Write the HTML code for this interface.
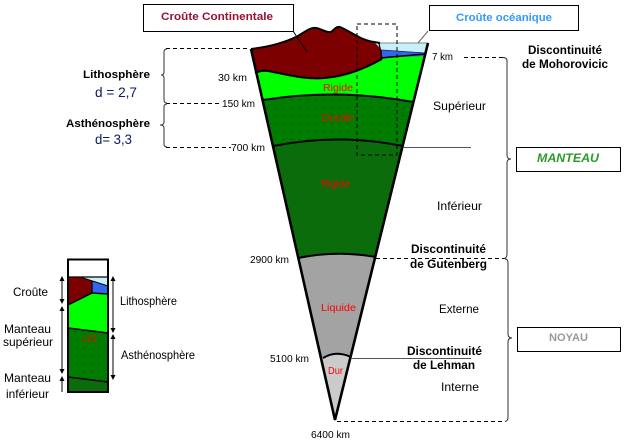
<!DOCTYPE html>
<html><head><meta charset="utf-8">
<style>
html,body{margin:0;padding:0;background:#fff;}
svg{display:block;}
text{font-family:"Liberation Sans",Arial,sans-serif;}
</style></head>
<body>
<svg width="625" height="443" viewBox="0 0 625 443" xmlns="http://www.w3.org/2000/svg">
<defs>
<clipPath id="cone">
<path d="M251,49 C268,47 284,43 298,36 C306,31 311,27 316,28 C322,29 326,33 331,32 C334,30 336,26 340,27 C350,31 360,40 374,42 L380,43 L428,43 L335,420 Z"/>
</clipPath>
<pattern id="dots" width="8" height="8" patternUnits="userSpaceOnUse">
<rect width="8" height="8" fill="#007c00"/>
<rect x="3" y="3" width="1" height="1" fill="#004a00"/>
</pattern>
</defs>

<!-- cone fills -->
<g clip-path="url(#cone)">
<rect x="200" y="0" width="260" height="443" fill="#0b6c0b"/>
<path d="M200,0 L460,0 L460,146 L403,146 Q338,133 273,146 L200,146 Z" fill="url(#dots)"/>
<path d="M200,0 L460,0 L460,102 L413,102 Q338,88 263,100 L200,100 Z" fill="#00ff00"/>
<path d="M240,10 L240,74 L255,73 Q262,70 268,71 C285,74 305,80 325,78 C345,76 362,70 382,59 L382,49 L378,42 L370,10 Z" fill="#7c0000"/>
<path d="M372,40 L430,40 L430,53 L382,50 Z" fill="#c6f0fa"/>
<path d="M382,50 L430,53 L430,56 L397,57 L382,59 Z" fill="#3366ee"/>
<path d="M200,258 L298,258 Q337,250 376,257 L460,257 L460,450 L200,450 Z" fill="#a3a3a3"/>
<path d="M200,358 L323,358 Q336,350 351,357 L460,357 L460,450 L200,450 Z" fill="#cbcbcb"/>
</g>

<!-- boundaries -->
<g fill="none" stroke="#000">
<path d="M251,49 C268,47 284,43 298,36 C306,31 311,27 316,28 C322,29 326,33 331,32 C334,30 336,26 340,27 C350,31 360,40 374,42 L380,43" stroke-width="2"/>
<path d="M380,43 L428,43" stroke="#888" stroke-width="1"/>
<path d="M255,73 Q262,70 268,71 C285,74 305,80 325,78 C345,76 362,70 382,59" stroke-width="2"/>
<path d="M380,58 L425,54" stroke-width="1.5"/>
<path d="M382,50 L425,53" stroke="#224" stroke-width="0.8"/>
<path d="M382,59 L379,43" stroke-width="1.2"/>
<path d="M263,100 Q338,88 413,102" stroke-width="2"/>
<path d="M273,146 Q338,133 403,146" stroke-width="2"/>
<path d="M298,258 Q337,250 376,257" stroke-width="2"/>
<path d="M323,358 Q336,350 351,357" stroke-width="2"/>
<path d="M251,49 L335,420 L428,43" stroke-width="2.6" stroke-linejoin="miter"/>
</g>

<!-- dashed rectangle -->
<rect x="357" y="24" width="40" height="131" fill="none" stroke="#000" stroke-width="1" stroke-dasharray="4,3"/>

<!-- callouts -->
<rect x="143.5" y="4.5" width="150" height="27" fill="#fff" stroke="#000" stroke-width="1"/>
<line x1="293" y1="31" x2="307" y2="52" stroke="#000" stroke-width="1"/>
<text x="161" y="20" font-size="11" font-weight="bold" fill="#991133" textLength="112" lengthAdjust="spacingAndGlyphs">Croûte Continentale</text>
<rect x="429.5" y="5.5" width="149" height="25" fill="#fff" stroke="#000" stroke-width="1"/>
<line x1="428" y1="31" x2="418" y2="43" stroke="#666" stroke-width="1"/>
<text x="456" y="21" font-size="11" font-weight="bold" fill="#3399ff" textLength="96" lengthAdjust="spacingAndGlyphs">Croûte océanique</text>

<!-- dashed connectors -->
<g stroke="#000" stroke-width="1" stroke-dasharray="4,3" fill="none">
<line x1="166" y1="48.5" x2="250" y2="48.5"/>
<line x1="166" y1="103.5" x2="220" y2="103.5"/>
<line x1="166" y1="147.5" x2="231" y2="147.5"/>
<line x1="464" y1="57.5" x2="503" y2="57.5"/>
<line x1="376" y1="258.5" x2="505" y2="258.5"/>
<line x1="337" y1="421.5" x2="505" y2="421.5"/>
</g>
<line x1="403" y1="147.5" x2="471" y2="147.5" stroke="#555" stroke-width="1"/>
<line x1="351" y1="358.5" x2="471" y2="358.5" stroke="#555" stroke-width="1"/>

<!-- braces -->
<g fill="none" stroke="#333" stroke-width="1">
<path d="M167,49 Q164,49 164,52 L164,72 Q164,75 161,75 Q164,75 164,78 L164,100 Q164,103 167,103"/>
<path d="M167,104 Q164,104 164,107 L164,122 Q164,125 160,125 Q164,125 164,128 L164,144 Q164,147 167,147"/>
<path d="M503,57.5 Q507,57.5 507,61 L507,155 Q507,159 511,159 Q507,159 507,163 L507,254 Q507,258 504,258.5"/>
<path d="M505,259 Q508,259 508,263 L508,334 Q508,338 512,338 Q508,338 508,342 L508,417 Q508,421 505,421.5"/>
</g>

<!-- boxes -->
<rect x="516.5" y="147.5" width="104" height="24" fill="#fff" stroke="#000" stroke-width="1"/>
<text x="537" y="162" font-size="12" font-weight="bold" font-style="italic" fill="#2a9a2a" textLength="62" lengthAdjust="spacingAndGlyphs">MANTEAU</text>
<rect x="517.5" y="327.5" width="103" height="24" fill="#fff" stroke="#000" stroke-width="1"/>
<text x="549" y="341" font-size="11" font-weight="bold" fill="#999" textLength="39" lengthAdjust="spacingAndGlyphs">NOYAU</text>

<!-- right labels -->
<g font-size="12" fill="#000">
<text x="528" y="54" font-weight="bold" textLength="74" lengthAdjust="spacingAndGlyphs">Discontinuité</text>
<text x="522" y="68" font-weight="bold" textLength="86" lengthAdjust="spacingAndGlyphs">de Mohorovicic</text>
<text x="433" y="110" textLength="53" lengthAdjust="spacingAndGlyphs">Supérieur</text>
<text x="437" y="210" textLength="45" lengthAdjust="spacingAndGlyphs">Inférieur</text>
<text x="411" y="253" font-weight="bold" textLength="75" lengthAdjust="spacingAndGlyphs">Discontinuité</text>
<text x="410" y="268" font-weight="bold" textLength="77" lengthAdjust="spacingAndGlyphs">de Gutenberg</text>
<text x="439" y="313" textLength="40" lengthAdjust="spacingAndGlyphs">Externe</text>
<text x="407" y="355" font-weight="bold" textLength="75" lengthAdjust="spacingAndGlyphs">Discontinuité</text>
<text x="413" y="369" font-weight="bold" textLength="62" lengthAdjust="spacingAndGlyphs">de Lehman</text>
<text x="441" y="391" textLength="38" lengthAdjust="spacingAndGlyphs">Interne</text>
</g>

<!-- km labels -->
<g font-size="10" fill="#000">
<text x="432" y="60" textLength="21" lengthAdjust="spacingAndGlyphs">7 km</text>
<text x="218" y="81" textLength="29" lengthAdjust="spacingAndGlyphs">30 km</text>
<text x="222" y="107" textLength="33" lengthAdjust="spacingAndGlyphs">150 km</text>
<text x="231" y="151" textLength="34" lengthAdjust="spacingAndGlyphs">700 km</text>
<text x="250" y="263" textLength="39" lengthAdjust="spacingAndGlyphs">2900 km</text>
<text x="270" y="362" textLength="39" lengthAdjust="spacingAndGlyphs">5100 km</text>
<text x="311" y="438" textLength="39" lengthAdjust="spacingAndGlyphs">6400 km</text>
</g>

<!-- red labels -->
<g font-size="10" fill="#ff0000">
<text x="323" y="91" textLength="30" lengthAdjust="spacingAndGlyphs">Rigide</text>
<text x="322" y="121" textLength="32" lengthAdjust="spacingAndGlyphs">Ductile</text>
<text x="321" y="187" textLength="29" lengthAdjust="spacingAndGlyphs">Rigide</text>
<text x="321" y="311" textLength="35" lengthAdjust="spacingAndGlyphs">Liquide</text>
<text x="328" y="374" textLength="15" lengthAdjust="spacingAndGlyphs">Dur</text>
</g>

<!-- left labels -->
<text x="83" y="78" font-size="11" font-weight="bold" fill="#000" textLength="67" lengthAdjust="spacingAndGlyphs">Lithosphère</text>
<text x="95" y="97" font-size="14" fill="#0a1a5a" textLength="42" lengthAdjust="spacingAndGlyphs">d = 2,7</text>
<text x="66" y="127" font-size="11" font-weight="bold" fill="#000" textLength="84" lengthAdjust="spacingAndGlyphs">Asthénosphère</text>
<text x="95" y="144" font-size="14" fill="#0a1a5a" textLength="37" lengthAdjust="spacingAndGlyphs">d= 3,3</text>

<!-- small column -->
<rect x="68" y="259" width="40" height="133" fill="#fff"/>
<polygon points="68,305 92,293 108,294 108,333 68,328" fill="#00ff00"/>
<polygon points="68,328 108,333 108,382 68,377" fill="url(#dots)"/>
<polygon points="68,377 108,382 108,392 68,392" fill="#0b6c0b"/>
<polygon points="78,277 108,277 108,286 92,281" fill="#c6f0fa"/>
<polygon points="92,281 108,286 108,294 92,293" fill="#3366ee"/>
<polygon points="68,277 80,277 92,281 92,293 68,305" fill="#7c0000"/>
<g stroke="#000" fill="none">
<polyline points="68,305 92,293 108,294" stroke-width="1.5"/>
<polyline points="92,281 92,293" stroke-width="1.2"/>
<polyline points="80,277 108,286" stroke-width="1"/>
<polyline points="68,328 108,333" stroke-width="1.5"/>
<polyline points="68,377 108,382" stroke-width="1.5"/>
<line x1="68" y1="277" x2="108" y2="277" stroke-width="1.2"/>
<rect x="68" y="259.5" width="40" height="132.5" stroke-width="2"/>
</g>
<text x="83" y="342" font-size="10" fill="#ff0000" textLength="14" lengthAdjust="spacingAndGlyphs">LVZ</text>

<!-- arrows -->
<g stroke="#000" stroke-width="1">
<line x1="62" y1="280" x2="62" y2="301"/>
<line x1="62" y1="310" x2="62" y2="370"/>
<line x1="62" y1="380" x2="62" y2="392"/>
<line x1="113" y1="280" x2="113" y2="330"/>
<line x1="113" y1="338" x2="113" y2="377"/>
</g>
<g fill="#000">
<polygon points="62,276 59.5,281 64.5,281"/>
<polygon points="62,304 59.5,299 64.5,299"/>
<polygon points="62,306 59.5,311 64.5,311"/>
<polygon points="62,374 59.5,369 64.5,369"/>
<polygon points="62,376 59.5,381 64.5,381"/>
<polygon points="113,276 110.5,281 115.5,281"/>
<polygon points="113,333 110.5,328 115.5,328"/>
<polygon points="113,334 110.5,339 115.5,339"/>
<polygon points="113,380 110.5,375 115.5,375"/>
</g>
<g font-size="12" fill="#000">
<text x="13" y="296" textLength="35" lengthAdjust="spacingAndGlyphs">Croûte</text>
<text x="4" y="333" textLength="47" lengthAdjust="spacingAndGlyphs">Manteau</text>
<text x="3" y="346" textLength="50" lengthAdjust="spacingAndGlyphs">supérieur</text>
<text x="4" y="382" textLength="47" lengthAdjust="spacingAndGlyphs">Manteau</text>
<text x="6" y="398" textLength="43" lengthAdjust="spacingAndGlyphs">inférieur</text>
<text x="120" y="305" textLength="57" lengthAdjust="spacingAndGlyphs">Lithosphère</text>
<text x="121" y="359" textLength="74" lengthAdjust="spacingAndGlyphs">Asthénosphère</text>
</g>
</svg>
</body></html>
